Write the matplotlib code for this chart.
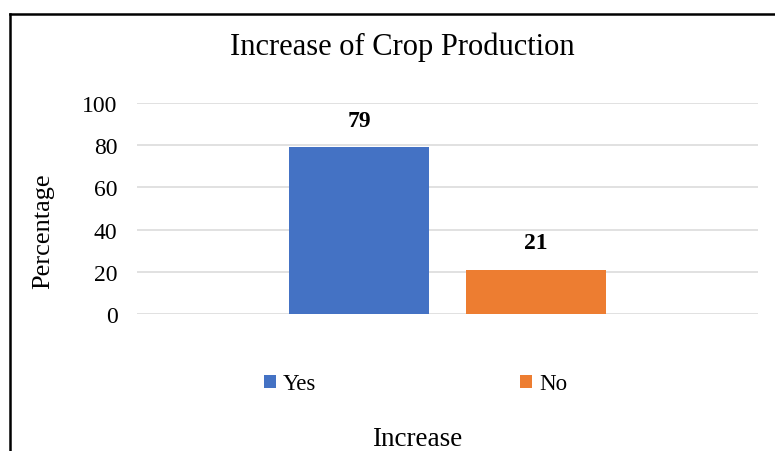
import matplotlib
matplotlib.use("Agg")
import matplotlib.pyplot as plt
from matplotlib.patches import Patch
from matplotlib.lines import Line2D

# Survey responses on whether crop production increased
series = ["Yes", "No"]
percentages = [79, 21]
colors = ["#4472C4", "#ED7D31"]
y_ticks = [0, 20, 40, 60, 80, 100]

plt.rcParams["font.family"] = ["Liberation Serif", "DejaVu Serif"]

W, H = 775, 452
fig = plt.figure(figsize=(W / 100, H / 100), dpi=100)
fig.patch.set_facecolor("white")

ax = fig.add_axes([137 / W, 1 - 315 / H, (758 - 137) / W, (315 - 104) / H])

# One category with two clustered series
bar_width = 0.2254
gap = 0.0596
offsets = [-(bar_width + gap) / 2, (bar_width + gap) / 2]
for name, val, col, off in zip(series, percentages, colors, offsets):
    ax.bar(off, val, width=bar_width, color=col, label=name, zorder=3)
    ax.annotate(f"{val}", xy=(off, val), xytext=(0, 12), textcoords="offset points",
                ha="center", va="bottom", fontsize=17, fontweight="bold", color="#000000")

ax.set_xlim(-0.5, 0.5)
ax.set_ylim(0, 100)
ax.set_yticks(y_ticks)
ax.set_xticks([])
ax.tick_params(axis="y", length=0, pad=14, labelsize=17, labelcolor="#000000")
ax.yaxis.grid(True, color="#d9d9d9", linewidth=1.1, zorder=0)
for s in ax.spines.values():
    s.set_visible(False)
ax.set_facecolor("white")

# Titles and axis captions
fig.text(402 / W, 1 - 55 / H, "Increase of Crop Production", ha="center", va="baseline",
         fontsize=22, color="#000000")
fig.text(43 / W, 1 - 231 / H, "Percentage", ha="center", va="center", rotation=90,
         fontsize=19, color="#000000")
fig.text(417 / W, 1 - 446 / H, "Increase", ha="center", va="baseline",
         fontsize=19.5, color="#000000")

# Legend below the plot
handles = [Patch(facecolor=c, edgecolor="none") for c in colors]
fig.legend(handles, series, loc="center left", bbox_to_anchor=(264 / W, 1 - 385 / H),
           ncol=2, frameon=False, fontsize=16.5, handlelength=0.52, handleheight=0.52,
           handletextpad=0.3, columnspacing=8.9, borderpad=0, borderaxespad=0)

# Chart border (left and top edges)
x0 = 9.5 / W
y0 = 1 - 14.5 / H
fig.add_artist(Line2D([x0, x0], [0, y0], transform=fig.transFigure, color="#000000", linewidth=1.8))
fig.add_artist(Line2D([x0, 1], [y0, y0], transform=fig.transFigure, color="#000000", linewidth=1.8))

fig.savefig("out.png", dpi=100, facecolor="white")
